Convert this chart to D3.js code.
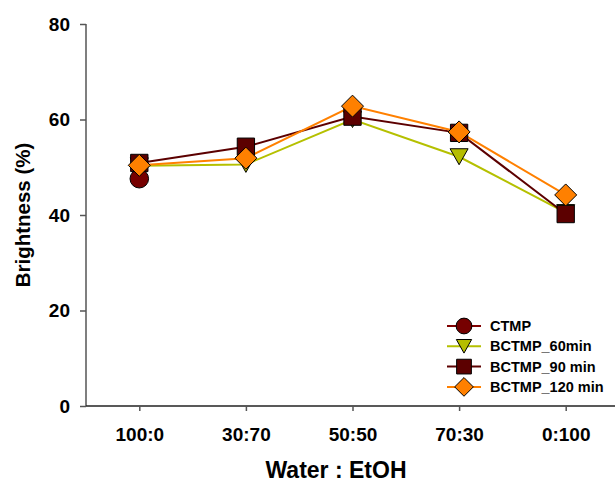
<!DOCTYPE html>
<html><head><meta charset="utf-8">
<script src="https://cdn.jsdelivr.net/npm/d3@7"></script>
<style>body{margin:0;background:#fff}svg{display:block}text{font-family:"Liberation Sans",Arial,sans-serif;font-weight:bold}</style>
</head><body>
<script>
const categories = ["100:0","30:70","50:50","70:30","0:100"];
const seriesNames = ["CTMP","BCTMP_60min","BCTMP_90 min","BCTMP_120 min"];
const ctmp     = [47.6, null, null, null, null];
const bctmp60  = [50.3, 50.6, 60.0, 52.2, 40.5];
const bctmp90  = [50.9, 54.3, 60.6, 57.2, 40.2];
const bctmp120 = [50.4, 51.9, 62.8, 57.4, 44.2];
const yTicks = [0,20,40,60,80];

const W = 615, H = 483;
const m = {left: 86, right: 619, top: 24, bottom: 406};
const svg = d3.select("body").append("svg").attr("width", W).attr("height", H);

const x = d3.scalePoint().domain(categories).range([m.left, m.right]).padding(0.5);
const y = d3.scaleLinear().domain([0, 80]).range([m.bottom, m.top]);

const series = [
  {name: seriesNames[0], values: ctmp,     line: "#800000", fill: "#760000", sym: d3.symbolCircle,   size: 270},
  {name: seriesNames[1], values: bctmp60,  line: "#b5c000", fill: "#b5bd00", sym: "tri",            size: 0},
  {name: seriesNames[2], values: bctmp90,  line: "#5c0000", fill: "#5c0000", sym: d3.symbolSquare,   size: 300},
  {name: seriesNames[3], values: bctmp120, line: "#ff8000", fill: "#ff8000", sym: "diamond",        size: 0}
];

function symPath(s, scale) {
  scale = scale || 1;
  if (s.sym === "tri") {
    const w = 9 * scale, h = 8 * scale;
    return `M${-w},${-h}L${w},${-h}L0,${h}Z`;
  }
  if (s.sym === "diamond") {
    const r = 11 * scale;
    return `M0,${-r}L${r},0L0,${r}L${-r},0Z`;
  }
  return d3.symbol().type(s.sym).size(s.size * scale * scale)();
}

// axes
const yAxis = svg.append("g").attr("transform", `translate(${m.left},0)`)
  .call(d3.axisLeft(y).tickValues(yTicks).tickSize(6).tickPadding(10).tickFormat(d3.format("d")));
const xAxis = svg.append("g").attr("transform", `translate(0,${m.bottom})`)
  .call(d3.axisBottom(x).tickSize(5).tickPadding(17));
yAxis.select(".domain").remove();
yAxis.append("line").attr("x1", 0).attr("x2", 0).attr("y1", m.top).attr("y2", m.bottom).attr("stroke", "#555").attr("stroke-width", 1.5);
xAxis.select(".domain").attr("d", `M${m.left},0H${W}`).attr("stroke", "#222").attr("stroke-width", 1.5);
yAxis.selectAll(".tick line").attr("stroke", "#555").attr("stroke-width", 1.5);
xAxis.selectAll(".tick line").attr("stroke", "#555").attr("stroke-width", 1.5);
yAxis.selectAll("text").attr("font-size", 19).attr("fill", "#000");
xAxis.selectAll("text").attr("font-size", 19).attr("fill", "#000");

svg.append("text").attr("x", 336).attr("y", 478).attr("text-anchor", "middle")
  .attr("font-size", 23).text("Water : EtOH");
svg.append("text").attr("transform", `translate(30,${(m.top + m.bottom) / 2}) rotate(-90)`)
  .attr("text-anchor", "middle").attr("font-size", 20.5).text("Brightness (%)");

// lines and markers
const lineGen = d3.line().defined(d => d.v != null).x(d => x(d.c)).y(d => y(d.v));
series.forEach(s => {
  const pts = categories.map((c, i) => ({c, v: s.values[i]}));
  svg.append("path").datum(pts).attr("d", lineGen).attr("fill", "none")
    .attr("stroke", s.line).attr("stroke-width", 2);
});
series.forEach(s => {
  const pts = categories.map((c, i) => ({c, v: s.values[i]})).filter(d => d.v != null);
  svg.selectAll(null).data(pts).enter().append("path")
    .attr("transform", d => `translate(${x(d.c)},${y(d.v)})`)
    .attr("d", symPath(s)).attr("fill", s.fill).attr("stroke", "#000").attr("stroke-width", 1);
});

// legend
const leg = svg.append("g");
series.forEach((s, i) => {
  const cy = 326 + i * 20.3;
  leg.append("line").attr("x1", 447).attr("x2", 481).attr("y1", cy).attr("y2", cy)
    .attr("stroke", s.line).attr("stroke-width", 2);
  leg.append("path").attr("transform", `translate(464,${cy})`).attr("d", symPath(s, 0.85))
    .attr("fill", s.fill).attr("stroke", "#000").attr("stroke-width", 1);
  leg.append("text").attr("x", 490).attr("y", cy + 5).attr("font-size", 14.5).text(s.name);
});
</script>
</body></html>
